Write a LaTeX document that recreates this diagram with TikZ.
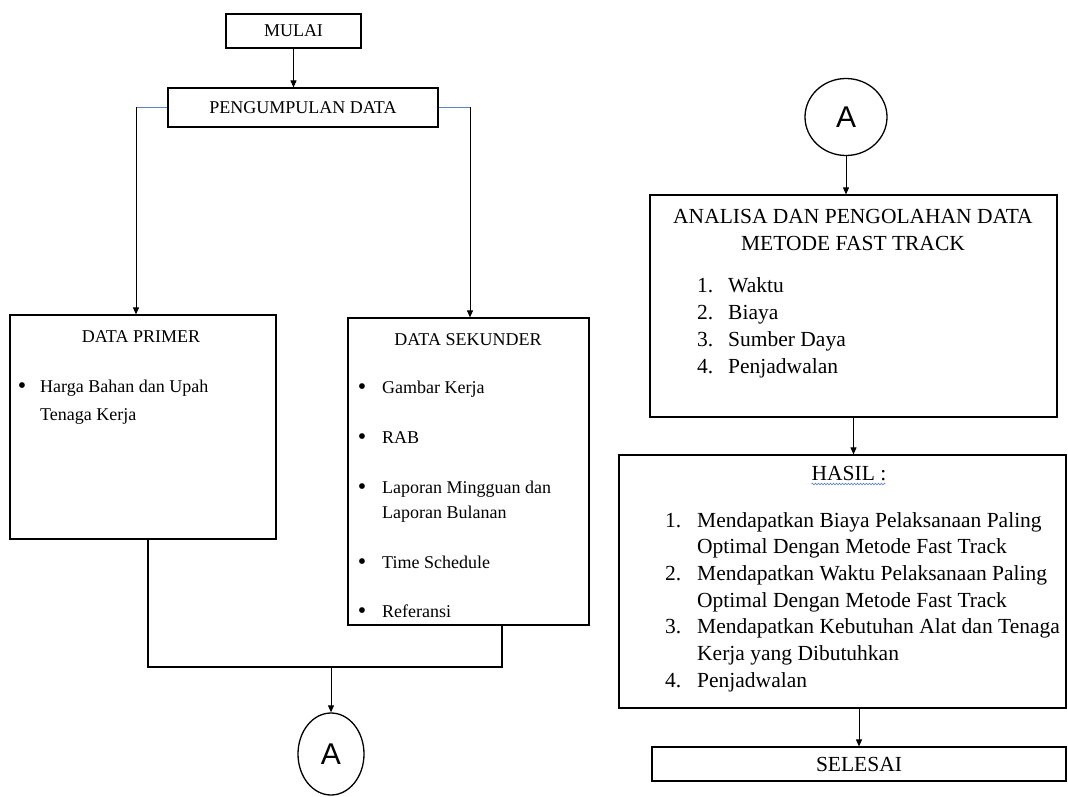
\documentclass[tikz,border=0pt]{standalone}
\usepackage{fontspec}
\setmainfont{Liberation Serif}
\newfontfamily\connfont{Liberation Sans}
\usetikzlibrary{arrows.meta,positioning,calc,shapes.geometric,decorations.pathmorphing}
\definecolor{LineBlue}{HTML}{5B86C0}
\definecolor{WavyBlue}{HTML}{4472C4}

\begin{document}
\begin{tikzpicture}[x=1pt,y=-1pt,>=Triangle,
 box/.style={draw,line width=1.2pt,inner sep=0pt,font=\fontsize{18}{21}\selectfont},
 rbox/.style={draw,line width=1.2pt,inner sep=0pt,font=\fontsize{21.5}{26}\selectfont},
 conn/.style={draw,line width=1.3pt,ellipse,inner sep=0pt,font=\connfont\fontsize{30}{30}\selectfont},
 ltxt/.style={inner sep=0pt,font=\fontsize{18}{21}\selectfont},
 rtxt/.style={inner sep=0pt,font=\fontsize{21.5}{26}\selectfont},
 bul/.style={inner sep=0pt,font=\fontsize{24}{24}\selectfont},
 arr/.style={-{Triangle[length=7pt,width=6pt]},line width=1pt}]
\useasboundingbox (0,0) rectangle (1068,797);
\node[box,minimum width=135,minimum height=34] (mulai) at (293.5,31) {MULAI};
\node[box,minimum width=270,minimum height=39] (kumpul) at (303,107.5) {PENGUMPULAN DATA};
\node[box,minimum width=266,minimum height=224] (primer) at (143,427) {};
\node[box,minimum width=241,minimum height=307] (sekunder) at (468.5,471.5) {};
\node[conn,minimum width=66,minimum height=82] (conA) at (331,754) {A};
\coordinate (kiri) at (136,107.5);
\coordinate (kanan) at (470,107.5);
\coordinate (gabungL) at (148,667);
\coordinate (gabungR) at (502,667);
\coordinate (gabungM) at (331,667);
% isi data primer
\node[ltxt,anchor=base] (judulP) at (141,342) {DATA PRIMER};
\node[bul,anchor=base] (bulP) at (22,393) {\textbullet};
\node[ltxt,anchor=base west] (hargaA) at (40,392) {Harga Bahan dan Upah};
\node[ltxt,anchor=base west] (hargaB) at (40,420) {Tenaga Kerja};
% isi data sekunder
\node[ltxt,anchor=base] (judulS) at (468,345) {DATA SEKUNDER};
\node[bul,anchor=base] (bulS1) at (362,394) {\textbullet};
\node[ltxt,anchor=base west] (gambar) at (382,393) {Gambar Kerja};
\node[bul,anchor=base] (bulS2) at (362,444) {\textbullet};
\node[ltxt,anchor=base west] (rab) at (382,443) {RAB};
\node[bul,anchor=base] (bulS3) at (362,494) {\textbullet};
\node[ltxt,anchor=base west] (lapA) at (382,493) {Laporan Mingguan dan};
\node[ltxt,anchor=base west] (lapB) at (382,518) {Laporan Bulanan};
\node[bul,anchor=base] (bulS4) at (362,569) {\textbullet};
\node[ltxt,anchor=base west] (jadwal) at (382,568) {Time Schedule};
\node[bul,anchor=base] (bulS5) at (362,618) {\textbullet};
\node[ltxt,anchor=base west] (referensi) at (382,617) {Referansi};
\draw[arr] (mulai.south) -- (mulai.south |- kumpul.north);
\draw[LineBlue,line width=1pt] (kumpul.west) -- (kiri);
\draw[LineBlue,line width=1pt] (kumpul.east) -- (kanan);
\draw[arr] (kiri) -- (kiri |- primer.north);
\draw[arr] (kanan) -- (kanan |- sekunder.north);
\draw[line width=1.2pt] (primer.south -| gabungL) -- (gabungL) -- (gabungR) -- (sekunder.south -| gabungR);
\draw[arr] (gabungM) -- (conA.north);
% sisi kanan
\node[conn,minimum width=82,minimum height=77] (conB) at (846,117) {A};
\node[rbox,minimum width=407,minimum height=222] (analisa) at (853.5,306) {};
\node[rbox,minimum width=447,minimum height=253] (hasil) at (842.5,581.5) {};
\node[rbox,minimum width=414,minimum height=34] (selesai) at (859,764) {SELESAI};
\node[rtxt,anchor=base] (judulA1) at (853,223) {ANALISA DAN PENGOLAHAN DATA};
\node[rtxt,anchor=base] (judulA2) at (853,250) {METODE FAST TRACK};
\node[rtxt,anchor=base west] (noA1) at (697,292) {1.};
\node[rtxt,anchor=base west] (waktu) at (728,292) {Waktu};
\node[rtxt,anchor=base west] (noA2) at (697,319) {2.};
\node[rtxt,anchor=base west] (biaya) at (728,319) {Biaya};
\node[rtxt,anchor=base west] (noA3) at (697,346) {3.};
\node[rtxt,anchor=base west] (sumber) at (728,346) {Sumber Daya};
\node[rtxt,anchor=base west] (noA4) at (697,373) {4.};
\node[rtxt,anchor=base west] (jadwalA) at (728,373) {Penjadwalan};
\node[rtxt,anchor=base] (judulH) at (849,480) {HASIL :};
\draw[WavyBlue,line width=0.5pt,decorate,decoration={snake,amplitude=0.9pt,segment length=3pt}] (judulH.base west) ++(0,4) -- ++(74,0);
\node[rtxt,anchor=base west] (noH1) at (665,527) {1.};
\node[rtxt,anchor=base west] (hasil1a) at (697,527) {Mendapatkan Biaya Pelaksanaan Paling};
\node[rtxt,anchor=base west] (hasil1b) at (697,553) {Optimal Dengan Metode Fast Track};
\node[rtxt,anchor=base west] (noH2) at (665,580) {2.};
\node[rtxt,anchor=base west] (hasil2a) at (697,580) {Mendapatkan Waktu Pelaksanaan Paling};
\node[rtxt,anchor=base west] (hasil2b) at (697,607) {Optimal Dengan Metode Fast Track};
\node[rtxt,anchor=base west] (noH3) at (665,633) {3.};
\node[rtxt,anchor=base west] (hasil3a) at (697,633) {Mendapatkan Kebutuhan Alat dan Tenaga};
\node[rtxt,anchor=base west] (hasil3b) at (697,660) {Kerja yang Dibutuhkan};
\node[rtxt,anchor=base west] (noH4) at (665,687) {4.};
\node[rtxt,anchor=base west] (hasil4) at (697,687) {Penjadwalan};
\draw[arr] (conB.south) -- (conB.south |- analisa.north);
\draw[arr] (analisa.south) -- (analisa.south |- hasil.north);
\draw[arr] (selesai.north |- hasil.south) -- (selesai.north);
\end{tikzpicture}
\end{document}
